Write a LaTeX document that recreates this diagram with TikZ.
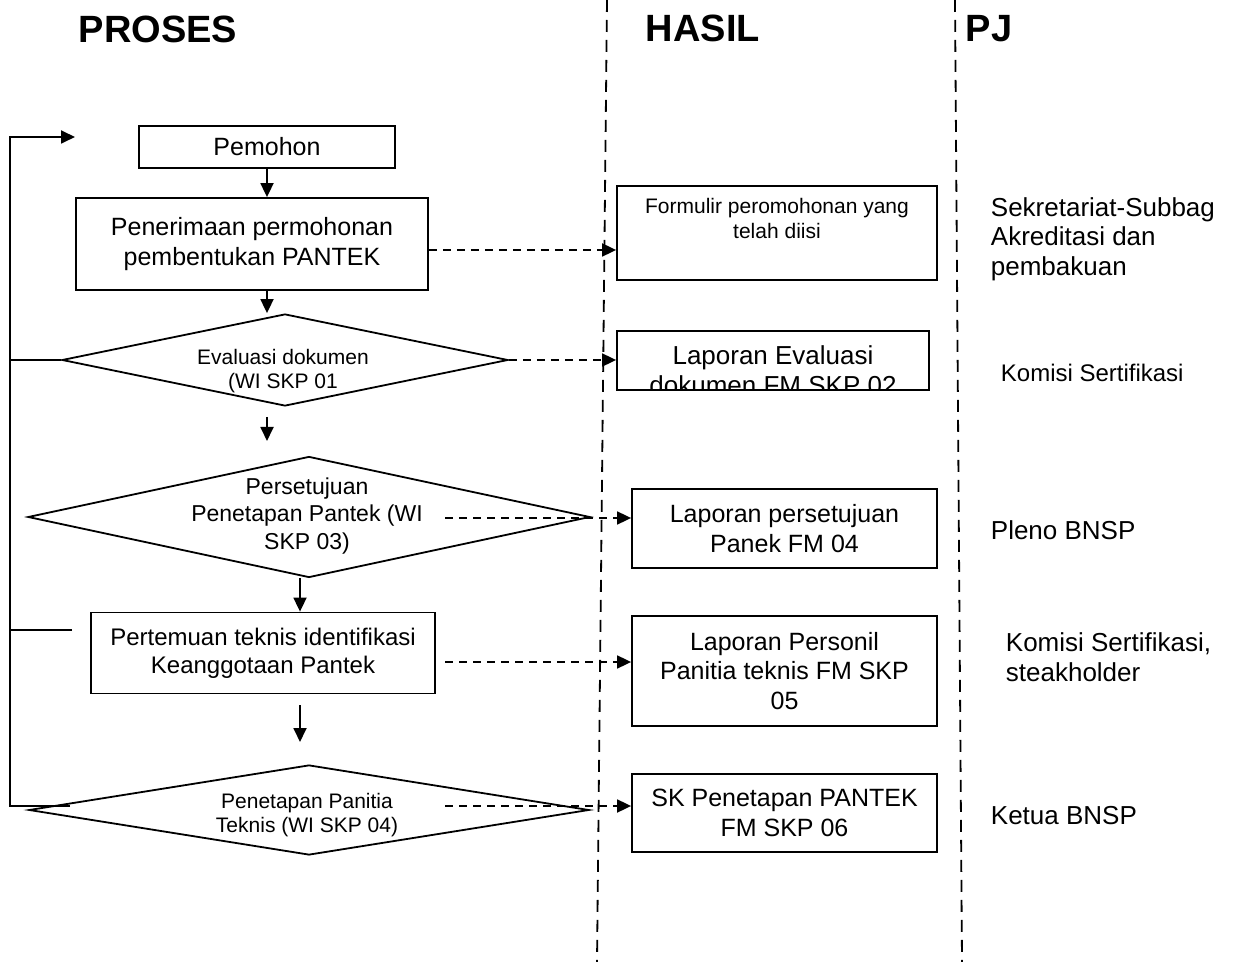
\documentclass[tikz,border=0pt]{standalone}
\usepackage{fontspec}
\setmainfont{Liberation Sans}
\usetikzlibrary{shapes.geometric,arrows.meta}
\begin{document}
\begin{tikzpicture}
		[x=0.5pt,y=-0.5pt,
		 line width=0.9pt,
		 box/.style={draw,rectangle,inner sep=0pt,align=center,font=\fontsize{12.5}{14.8}\selectfont},
		 dec/.style={draw,diamond,inner sep=0pt},
		 dtext/.style={align=center,inner sep=0pt,font=\fontsize{10.5}{12}\selectfont},
		 flow/.style={-{Triangle[length=7pt,width=6.5pt]}},
		 link/.style={flow,dash pattern=on 4pt off 3pt},
		 lane/.style={dash pattern=on 6pt off 4pt},
		 pj/.style={anchor=west,align=left,inner sep=0pt,font=\fontsize{13}{14.8}\selectfont},
		 title/.style={anchor=west,inner sep=0pt,font=\fontsize{19}{20}\selectfont\bfseries}]
	\useasboundingbox (0,0) rectangle (1237,962);

	%column titles and lanes
	\node[title] (proses) at (78,29) {PROSES};
	\node[title] (hasil) at (645,28) {HASIL};
	\node[title] (pjt) at (965,29) {PJ};
	\draw[lane] (607,0) -- (597,962);
	\draw[lane] (955,0) -- (962,962);

	%the process column
	\node[box,minimum width=128pt,minimum height=21pt] (pemohon) at (267,147) {Pemohon};
	\node[box,minimum width=176pt,minimum height=46pt] (terima) at (252,244)
		{Penerimaan permohonan\\pembentukan PANTEK};
	\node[dec,minimum width=223pt,minimum height=46pt] (eval) at (285,360) {};
	\node[dtext] (evalt) at (283,371) {Evaluasi dokumen\\(WI SKP 01};
	\node[dec,minimum width=281pt,minimum height=60.5pt] (setuju) at (309,517) {};
	\node[dtext,font=\fontsize{11.5}{13.8}\selectfont] (setujut) at (307,516)
		{Persetujuan\\Penetapan Pantek (WI\\SKP 03)};
	\node[box,minimum width=172pt,minimum height=40.5pt,font=\fontsize{12}{13.8}\selectfont] (temu) at (263,653)
		{Pertemuan teknis identifikasi\\Keanggotaan Pantek};
	\node[dec,minimum width=280pt,minimum height=45pt] (tetap) at (309,810) {};
	\node[dtext] (tetapt) at (307,815) {Penetapan Panitia\\Teknis (WI SKP 04)};

	%the result column
	\node[box,minimum width=160pt,minimum height=47pt] (formulir) at (777,233) {};
	\node[font=\fontsize{10.5}{12.5}\selectfont,align=center,anchor=north,inner sep=0pt] (formulirt)
		at ([yshift=-6pt]formulir.north) {Formulir peromohonan yang\\telah diisi};
	\node[box,minimum width=156pt,minimum height=29.5pt] (lapeval) at (773,360.5) {};
	\begin{scope}
		\clip (lapeval.south west) rectangle (lapeval.north east);
		\node[align=center,anchor=north,inner sep=0pt,font=\fontsize{13}{14.8}\selectfont] (lapevalt)
			at ([yshift=-7.5pt]lapeval.north) {Laporan Evaluasi\\dokumen FM SKP 02};
	\end{scope}
	\node[box,minimum width=152.5pt,minimum height=39.5pt] (lapsetuju) at (784.5,528.5)
		{Laporan persetujuan\\Panek FM 04};
	\node[box,minimum width=152.5pt,minimum height=55pt] (lappersonil) at (784.5,671)
		{Laporan Personil\\Panitia teknis FM SKP\\05};
	\node[box,minimum width=152.5pt,minimum height=39pt] (sktetap) at (784.5,813)
		{SK Penetapan PANTEK\\FM SKP 06};

	%the PJ column
	\node[pj] (pj1) at (990,239) {Sekretariat-Subbag\\Akreditasi dan\\pembakuan};
	\node[pj,font=\fontsize{12}{14}\selectfont] (pj2) at (1000,373) {Komisi Sertifikasi};
	\node[pj] (pj3) at (990,530) {Pleno BNSP};
	\node[pj] (pj4) at (1005,657) {Komisi Sertifikasi,\\steakholder};
	\node[pj] (pj5) at (990,816) {Ketua BNSP};

	%loose ends
	\coordinate (g1a) at (267,417);
	\coordinate (g1b) at (267,441);
	\coordinate (g2a) at (300,705);
	\coordinate (g2b) at (300,742);
	\coordinate (d3) at (445,518);
	\coordinate (d4) at (445,662);
	\coordinate (d5) at (445,806);
	\coordinate (fbx) at (10,0);
	\coordinate (fbtop) at (75,137);
	\coordinate (fbbot) at (70,806);
	\coordinate (tap) at (72,630);

	%main flow
	\draw[flow] (pemohon.south) -- (pemohon.south |- terima.north);
	\draw[flow] (pemohon.south |- terima.south) -- (pemohon.south |- eval.north);
	\draw[flow] (g1a) -- (g1b);
	\draw[flow] ([xshift=-4.5pt]setuju.south) -- ([xshift=-4.5pt]setuju.south |- temu.north);
	\draw[flow] (g2a) -- (g2b);

	%feedback line
	\draw[flow] (fbbot) -- (fbbot -| fbx) |- (fbtop);
	\draw (eval.west) -- (eval.west -| fbx);
	\draw (tap) -- (tap -| fbx);

	%results
	\draw[link] ([yshift=-3pt]terima.east) -- ([yshift=-3pt]terima.east -| formulir.west);
	\draw[link] (eval.east) -- (eval.east -| lapeval.west);
	\draw[link] (d3) -- (d3 -| lapsetuju.west);
	\draw[link] (d4) -- (d4 -| lappersonil.west);
	\draw[link] (d5) -- (d5 -| sktetap.west);
\end{tikzpicture}
\end{document}
